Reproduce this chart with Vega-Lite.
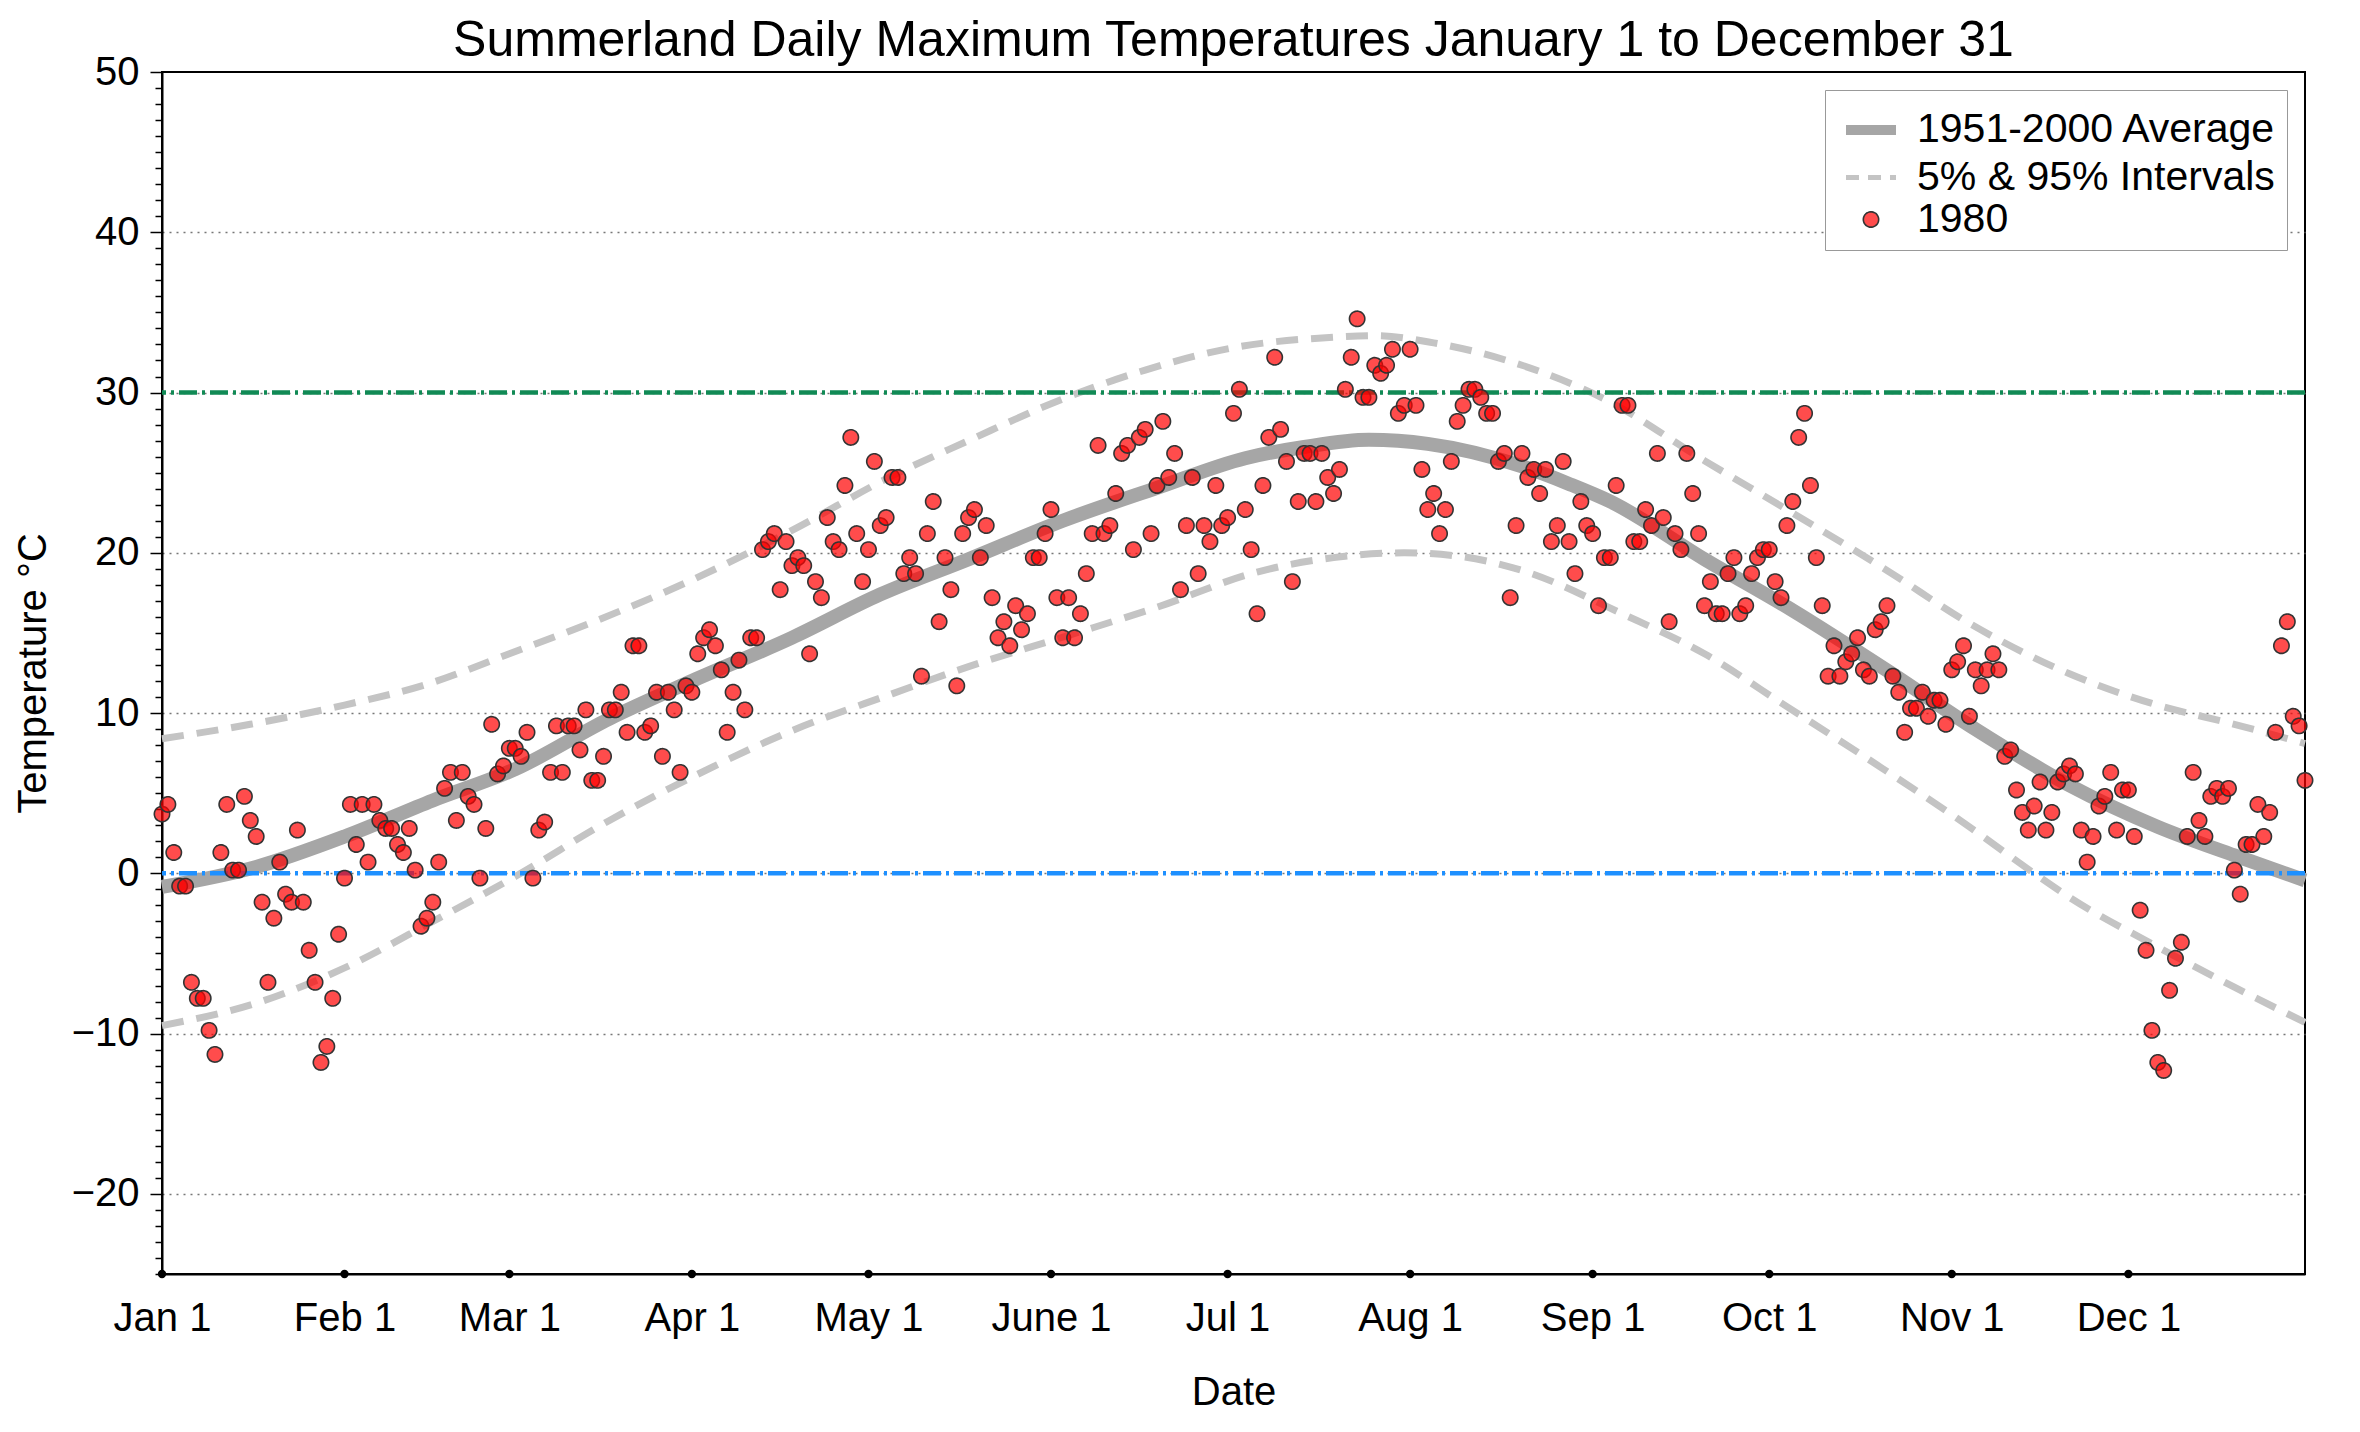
{
"$schema":"https://vega.github.io/schema/vega-lite/v6.json",
"width":2143,"height":1202,
"autosize":{"type":"none"},
"padding":{"left":162,"top":72,"right":55,"bottom":158},
"background":"white",
"config":{"font":"Liberation Sans","view":{"stroke":"black","strokeWidth":2},
 "axis":{"labelColor":"black","titleColor":"black","labelFontSize":40,"titleFontSize":40,"titleFontWeight":"normal","domainColor":"black","domainWidth":2,"tickColor":"black"},
 "legend":{"orient":"top-right","offset":18,"labelFontSize":41,"labelColor":"black","labelLimit":600,"strokeColor":"#999999","fillColor":"white","padding":10,"rowPadding":0,"labelOffset":16,"symbolOffset":6,"symbolOpacity":1}},
"title":{"text":"Summerland Daily Maximum Temperatures January 1 to December 31","fontSize":50,"fontWeight":"normal","color":"black","offset":0,"dy":14,"anchor":"middle"},
"datasets":{
"intervals":[
{"day":0,"temp":8.4,"bound":"upper"},{"day":15,"temp":9.3,"bound":"upper"},{"day":31,"temp":10.5,"bound":"upper"},{"day":45,"temp":11.8,"bound":"upper"},{"day":59,"temp":13.7,"bound":"upper"},{"day":74,"temp":15.8,"bound":"upper"},{"day":90,"temp":18.3,"bound":"upper"},{"day":107,"temp":21.4,"bound":"upper"},{"day":124,"temp":24.8,"bound":"upper"},{"day":137,"temp":27.0,"bound":"upper"},{"day":151,"temp":29.3,"bound":"upper"},{"day":167,"temp":31.4,"bound":"upper"},{"day":182,"temp":32.8,"bound":"upper"},{"day":199,"temp":33.45,"bound":"upper"},{"day":206,"temp":33.55,"bound":"upper"},{"day":216,"temp":33.1,"bound":"upper"},{"day":231,"temp":31.7,"bound":"upper"},{"day":245,"temp":29.6,"bound":"upper"},{"day":262,"temp":25.75,"bound":"upper"},{"day":276,"temp":22.7,"bound":"upper"},{"day":293,"temp":18.9,"bound":"upper"},{"day":307,"temp":15.6,"bound":"upper"},{"day":324,"temp":12.45,"bound":"upper"},{"day":338,"temp":10.6,"bound":"upper"},{"day":352,"temp":9.3,"bound":"upper"},{"day":364,"temp":8.1,"bound":"upper"},
{"day":0,"temp":-9.5,"bound":"lower"},{"day":16,"temp":-8.1,"bound":"lower"},{"day":31,"temp":-5.9,"bound":"lower"},{"day":46,"temp":-3.0,"bound":"lower"},{"day":60,"temp":-0.2,"bound":"lower"},{"day":76,"temp":3.3,"bound":"lower"},{"day":90,"temp":6.0,"bound":"lower"},{"day":107,"temp":8.9,"bound":"lower"},{"day":124,"temp":11.2,"bound":"lower"},{"day":137,"temp":12.9,"bound":"lower"},{"day":154,"temp":14.85,"bound":"lower"},{"day":169,"temp":16.6,"bound":"lower"},{"day":186,"temp":18.8,"bound":"lower"},{"day":199,"temp":19.7,"bound":"lower"},{"day":211,"temp":20.0,"bound":"lower"},{"day":220,"temp":19.8,"bound":"lower"},{"day":231,"temp":18.9,"bound":"lower"},{"day":248,"temp":16.2,"bound":"lower"},{"day":262,"temp":13.7,"bound":"lower"},{"day":276,"temp":10.4,"bound":"lower"},{"day":292,"temp":6.6,"bound":"lower"},{"day":307,"temp":2.9,"bound":"lower"},{"day":318,"temp":0.0,"bound":"lower"},{"day":324,"temp":-1.5,"bound":"lower"},{"day":338,"temp":-4.4,"bound":"lower"},{"day":352,"temp":-7.1,"bound":"lower"},{"day":364,"temp":-9.3,"bound":"lower"}],
"average":[
{"day":0,"temp":-0.85},{"day":16,"temp":0.4},{"day":31,"temp":2.3},{"day":46,"temp":4.55},{"day":60,"temp":6.5},{"day":76,"temp":9.65},{"day":90,"temp":12.0},{"day":107,"temp":14.7},{"day":122,"temp":17.4},{"day":137,"temp":19.6},{"day":153,"temp":22.0},{"day":169,"temp":24.05},{"day":184,"temp":25.9},{"day":194,"temp":26.6},{"day":205,"temp":27.05},{"day":215,"temp":26.8},{"day":231,"temp":25.4},{"day":239,"temp":24.3},{"day":246,"temp":23.2},{"day":262,"temp":19.6},{"day":277,"temp":16.4},{"day":293,"temp":12.66},{"day":308,"temp":9.0},{"day":324,"temp":5.49},{"day":339,"temp":2.9},{"day":352,"temp":1.12},{"day":364,"temp":-0.44}],
"months":[{"day":0},{"day":31},{"day":59},{"day":90},{"day":120},{"day":151},{"day":181},{"day":212},{"day":243},{"day":273},{"day":304},{"day":334}],
"obs":[
{"day":0,"temp":3.7},{"day":1,"temp":4.3},{"day":2,"temp":1.3},{"day":3,"temp":-0.8},{"day":4,"temp":-0.8},{"day":5,"temp":-6.8},{"day":6,"temp":-7.8},{"day":7,"temp":-7.8},{"day":8,"temp":-9.8},{"day":9,"temp":-11.3},
{"day":10,"temp":1.3},{"day":11,"temp":4.3},{"day":12,"temp":0.2},{"day":13,"temp":0.2},{"day":14,"temp":4.8},{"day":15,"temp":3.3},{"day":16,"temp":2.3},{"day":17,"temp":-1.8},{"day":18,"temp":-6.8},{"day":19,"temp":-2.8},
{"day":20,"temp":0.7},{"day":21,"temp":-1.3},{"day":22,"temp":-1.8},{"day":23,"temp":2.7},{"day":24,"temp":-1.8},{"day":25,"temp":-4.8},{"day":26,"temp":-6.8},{"day":27,"temp":-11.8},{"day":28,"temp":-10.8},{"day":29,"temp":-7.8},
{"day":30,"temp":-3.8},{"day":31,"temp":-0.3},{"day":32,"temp":4.3},{"day":33,"temp":1.8},{"day":34,"temp":4.3},{"day":35,"temp":0.7},{"day":36,"temp":4.3},{"day":37,"temp":3.3},{"day":38,"temp":2.8},{"day":39,"temp":2.8},
{"day":40,"temp":1.8},{"day":41,"temp":1.3},{"day":42,"temp":2.8},{"day":43,"temp":0.2},{"day":44,"temp":-3.3},{"day":45,"temp":-2.8},{"day":46,"temp":-1.8},{"day":47,"temp":0.7},{"day":48,"temp":5.3},{"day":49,"temp":6.3},
{"day":50,"temp":3.3},{"day":51,"temp":6.3},{"day":52,"temp":4.8},{"day":53,"temp":4.3},{"day":54,"temp":-0.3},{"day":55,"temp":2.8},{"day":56,"temp":9.3},{"day":57,"temp":6.2},{"day":58,"temp":6.7},{"day":59,"temp":7.8},
{"day":60,"temp":7.8},{"day":61,"temp":7.3},{"day":62,"temp":8.8},{"day":63,"temp":-0.3},{"day":64,"temp":2.7},{"day":65,"temp":3.2},{"day":66,"temp":6.3},{"day":67,"temp":9.2},{"day":68,"temp":6.3},{"day":69,"temp":9.2},
{"day":70,"temp":9.2},{"day":71,"temp":7.7},{"day":72,"temp":10.2},{"day":73,"temp":5.8},{"day":74,"temp":5.8},{"day":75,"temp":7.3},{"day":76,"temp":10.2},{"day":77,"temp":10.2},{"day":78,"temp":11.3},{"day":79,"temp":8.8},
{"day":80,"temp":14.2},{"day":81,"temp":14.2},{"day":82,"temp":8.8},{"day":83,"temp":9.2},{"day":84,"temp":11.3},{"day":85,"temp":7.3},{"day":86,"temp":11.3},{"day":87,"temp":10.2},{"day":88,"temp":6.3},{"day":89,"temp":11.7},
{"day":90,"temp":11.3},{"day":91,"temp":13.7},{"day":92,"temp":14.7},{"day":93,"temp":15.2},{"day":94,"temp":14.2},{"day":95,"temp":12.7},{"day":96,"temp":8.8},{"day":97,"temp":11.3},{"day":98,"temp":13.3},{"day":99,"temp":10.2},
{"day":100,"temp":14.7},{"day":101,"temp":14.7},{"day":102,"temp":20.2},{"day":103,"temp":20.7},{"day":104,"temp":21.2},{"day":105,"temp":17.7},{"day":106,"temp":20.7},{"day":107,"temp":19.2},{"day":108,"temp":19.7},{"day":109,"temp":19.2},
{"day":110,"temp":13.7},{"day":111,"temp":18.2},{"day":112,"temp":17.2},{"day":113,"temp":22.2},{"day":114,"temp":20.7},{"day":115,"temp":20.2},{"day":116,"temp":24.2},{"day":117,"temp":27.2},{"day":118,"temp":21.2},{"day":119,"temp":18.2},
{"day":120,"temp":20.2},{"day":121,"temp":25.7},{"day":122,"temp":21.7},{"day":123,"temp":22.2},{"day":124,"temp":24.7},{"day":125,"temp":24.7},{"day":126,"temp":18.7},{"day":127,"temp":19.7},{"day":128,"temp":18.7},{"day":129,"temp":12.3},
{"day":130,"temp":21.2},{"day":131,"temp":23.2},{"day":132,"temp":15.7},{"day":133,"temp":19.7},{"day":134,"temp":17.7},{"day":135,"temp":11.7},{"day":136,"temp":21.2},{"day":137,"temp":22.2},{"day":138,"temp":22.7},{"day":139,"temp":19.7},
{"day":140,"temp":21.7},{"day":141,"temp":17.2},{"day":142,"temp":14.7},{"day":143,"temp":15.7},{"day":144,"temp":14.2},{"day":145,"temp":16.7},{"day":146,"temp":15.2},{"day":147,"temp":16.2},{"day":148,"temp":19.7},{"day":149,"temp":19.7},
{"day":150,"temp":21.2},{"day":151,"temp":22.7},{"day":152,"temp":17.2},{"day":153,"temp":14.7},{"day":154,"temp":17.2},{"day":155,"temp":14.7},{"day":156,"temp":16.2},{"day":157,"temp":18.7},{"day":158,"temp":21.2},{"day":159,"temp":26.7},
{"day":160,"temp":21.2},{"day":161,"temp":21.7},{"day":162,"temp":23.7},{"day":163,"temp":26.2},{"day":164,"temp":26.7},{"day":165,"temp":20.2},{"day":166,"temp":27.2},{"day":167,"temp":27.7},{"day":168,"temp":21.2},{"day":169,"temp":24.2},
{"day":170,"temp":28.2},{"day":171,"temp":24.7},{"day":172,"temp":26.2},{"day":173,"temp":17.7},{"day":174,"temp":21.7},{"day":175,"temp":24.7},{"day":176,"temp":18.7},{"day":177,"temp":21.7},{"day":178,"temp":20.7},{"day":179,"temp":24.2},
{"day":180,"temp":21.7},{"day":181,"temp":22.2},{"day":182,"temp":28.7},{"day":183,"temp":30.2},{"day":184,"temp":22.7},{"day":185,"temp":20.2},{"day":186,"temp":16.2},{"day":187,"temp":24.2},{"day":188,"temp":27.2},{"day":189,"temp":32.2},
{"day":190,"temp":27.7},{"day":191,"temp":25.7},{"day":192,"temp":18.2},{"day":193,"temp":23.2},{"day":194,"temp":26.2},{"day":195,"temp":26.2},{"day":196,"temp":23.2},{"day":197,"temp":26.2},{"day":198,"temp":24.7},{"day":199,"temp":23.7},
{"day":200,"temp":25.2},{"day":201,"temp":30.2},{"day":202,"temp":32.2},{"day":203,"temp":34.6},{"day":204,"temp":29.7},{"day":205,"temp":29.7},{"day":206,"temp":31.7},{"day":207,"temp":31.2},{"day":208,"temp":31.7},{"day":209,"temp":32.7},
{"day":210,"temp":28.7},{"day":211,"temp":29.2},{"day":212,"temp":32.7},{"day":213,"temp":29.2},{"day":214,"temp":25.2},{"day":215,"temp":22.7},{"day":216,"temp":23.7},{"day":217,"temp":21.2},{"day":218,"temp":22.7},{"day":219,"temp":25.7},
{"day":220,"temp":28.2},{"day":221,"temp":29.2},{"day":222,"temp":30.2},{"day":223,"temp":30.2},{"day":224,"temp":29.7},{"day":225,"temp":28.7},{"day":226,"temp":28.7},{"day":227,"temp":25.7},{"day":228,"temp":26.2},{"day":229,"temp":17.2},
{"day":230,"temp":21.7},{"day":231,"temp":26.2},{"day":232,"temp":24.7},{"day":233,"temp":25.2},{"day":234,"temp":23.7},{"day":235,"temp":25.2},{"day":236,"temp":20.7},{"day":237,"temp":21.7},{"day":238,"temp":25.7},{"day":239,"temp":20.7},
{"day":240,"temp":18.7},{"day":241,"temp":23.2},{"day":242,"temp":21.7},{"day":243,"temp":21.2},{"day":244,"temp":16.7},{"day":245,"temp":19.7},{"day":246,"temp":19.7},{"day":247,"temp":24.2},{"day":248,"temp":29.2},{"day":249,"temp":29.2},
{"day":250,"temp":20.7},{"day":251,"temp":20.7},{"day":252,"temp":22.7},{"day":253,"temp":21.7},{"day":254,"temp":26.2},{"day":255,"temp":22.2},{"day":256,"temp":15.7},{"day":257,"temp":21.2},{"day":258,"temp":20.2},{"day":259,"temp":26.2},
{"day":260,"temp":23.7},{"day":261,"temp":21.2},{"day":262,"temp":16.7},{"day":263,"temp":18.2},{"day":264,"temp":16.2},{"day":265,"temp":16.2},{"day":266,"temp":18.7},{"day":267,"temp":19.7},{"day":268,"temp":16.2},{"day":269,"temp":16.7},
{"day":270,"temp":18.7},{"day":271,"temp":19.7},{"day":272,"temp":20.2},{"day":273,"temp":20.2},{"day":274,"temp":18.2},{"day":275,"temp":17.2},{"day":276,"temp":21.7},{"day":277,"temp":23.2},{"day":278,"temp":27.2},{"day":279,"temp":28.7},
{"day":280,"temp":24.2},{"day":281,"temp":19.7},{"day":282,"temp":16.7},{"day":283,"temp":12.3},{"day":284,"temp":14.2},{"day":285,"temp":12.3},{"day":286,"temp":13.2},{"day":287,"temp":13.7},{"day":288,"temp":14.7},{"day":289,"temp":12.7},
{"day":290,"temp":12.3},{"day":291,"temp":15.2},{"day":292,"temp":15.7},{"day":293,"temp":16.7},{"day":294,"temp":12.3},{"day":295,"temp":11.3},{"day":296,"temp":8.8},{"day":297,"temp":10.3},{"day":298,"temp":10.3},{"day":299,"temp":11.3},
{"day":300,"temp":9.8},{"day":301,"temp":10.8},{"day":302,"temp":10.8},{"day":303,"temp":9.3},{"day":304,"temp":12.7},{"day":305,"temp":13.2},{"day":306,"temp":14.2},{"day":307,"temp":9.8},{"day":308,"temp":12.7},{"day":309,"temp":11.7},
{"day":310,"temp":12.7},{"day":311,"temp":13.7},{"day":312,"temp":12.7},{"day":313,"temp":7.3},{"day":314,"temp":7.7},{"day":315,"temp":5.2},{"day":316,"temp":3.8},{"day":317,"temp":2.7},{"day":318,"temp":4.2},{"day":319,"temp":5.7},
{"day":320,"temp":2.7},{"day":321,"temp":3.8},{"day":322,"temp":5.7},{"day":323,"temp":6.2},{"day":324,"temp":6.7},{"day":325,"temp":6.2},{"day":326,"temp":2.7},{"day":327,"temp":0.7},{"day":328,"temp":2.3},{"day":329,"temp":4.2},
{"day":330,"temp":4.8},{"day":331,"temp":6.3},{"day":332,"temp":2.7},{"day":333,"temp":5.2},{"day":334,"temp":5.2},{"day":335,"temp":2.3},{"day":336,"temp":-2.3},{"day":337,"temp":-4.8},{"day":338,"temp":-9.8},{"day":339,"temp":-11.8},
{"day":340,"temp":-12.3},{"day":341,"temp":-7.3},{"day":342,"temp":-5.3},{"day":343,"temp":-4.3},{"day":344,"temp":2.3},{"day":345,"temp":6.3},{"day":346,"temp":3.3},{"day":347,"temp":2.3},{"day":348,"temp":4.8},{"day":349,"temp":5.3},
{"day":350,"temp":4.8},{"day":351,"temp":5.3},{"day":352,"temp":0.2},{"day":353,"temp":-1.3},{"day":354,"temp":1.8},{"day":355,"temp":1.8},{"day":356,"temp":4.3},{"day":357,"temp":2.3},{"day":358,"temp":3.8},{"day":359,"temp":8.8},
{"day":360,"temp":14.2},{"day":361,"temp":15.7},{"day":362,"temp":9.8},{"day":363,"temp":9.2},{"day":364,"temp":5.8}]
},
"layer":[
{"data":{"name":"intervals"},
 "mark":{"type":"line","color":"#c4c4c4","strokeWidth":7,"strokeDash":[22,13],"interpolate":"monotone"},
 "encoding":{
  "x":{"field":"day","type":"quantitative","scale":{"domain":[0,364],"nice":false,"zero":false},
   "axis":{"title":"Date","values":[0,31,59,90,120,151,181,212,243,273,304,334],"tickCount":100,
    "labelExpr":"['Jan 1','Feb 1','Mar 1','Apr 1','May 1','June 1','Jul 1','Aug 1','Sep 1','Oct 1','Nov 1','Dec 1'][indexof([0,31,59,90,120,151,181,212,243,273,304,334], datum.value)]",
    "ticks":false,"grid":false,"labelPadding":24,"labelFlush":false,"labelOverlap":false,"titleY":118,"titleBaseline":"middle"}},
  "y":{"field":"temp","type":"quantitative","scale":{"domain":[-25,50],"nice":false,"zero":false},
   "axis":{"title":"Temperature °C","tickCount":200,"format":"d",
    "values":[-25,-24,-23,-22,-21,-20,-19,-18,-17,-16,-15,-14,-13,-12,-11,-10,-9,-8,-7,-6,-5,-4,-3,-2,-1,0,1,2,3,4,5,6,7,8,9,10,11,12,13,14,15,16,17,18,19,20,21,22,23,24,25,26,27,28,29,30,31,32,33,34,35,36,37,38,39,40,41,42,43,44,45,46,47,48,49,50],
    "labelExpr":"datum.value % 10 === 0 ? datum.label : ''",
    "labelOverlap":false,"labelFlush":false,
    "tickSize":{"condition":{"test":"datum.value % 10 === 0","value":12},"value":7},
    "tickWidth":1.5,"labelPadding":11,
    "grid":true,"gridColor":"#777777","gridDash":[2,5],"gridWidth":1.5,
    "gridOpacity":{"condition":{"test":"datum.value % 10 === 0 && datum.value > -25 && datum.value < 50","value":1},"value":0},
    "titleX":-129,"titleBaseline":"middle"}},
  "detail":{"field":"bound"}}},
{"data":{"name":"average"},
 "mark":{"type":"line","color":"#a6a6a6","strokeWidth":14,"interpolate":"monotone"},
 "encoding":{"x":{"field":"day","type":"quantitative"},"y":{"field":"temp","type":"quantitative"}}},
{"data":{"values":[{"temp":0}]},
 "mark":{"type":"rule","color":"#1e90ff","strokeWidth":4.5,"strokeDash":[18,5,3,5]},
 "encoding":{"y":{"field":"temp","type":"quantitative"}}},
{"data":{"values":[{"temp":30}]},
 "mark":{"type":"rule","color":"#118a55","strokeWidth":4.5,"strokeDash":[18,5,3,5]},
 "encoding":{"y":{"field":"temp","type":"quantitative"}}},
{"data":{"name":"months"},
 "mark":{"type":"point","filled":true,"color":"black","size":70,"opacity":1},
 "encoding":{"x":{"field":"day","type":"quantitative"},"y":{"datum":-25}}},
{"data":{"name":"obs"},
 "mark":{"type":"point","opacity":1,"fillOpacity":1,"strokeOpacity":1},
 "encoding":{"x":{"field":"day","type":"quantitative"},"y":{"field":"temp","type":"quantitative"},
  "fill":{"datum":"1980","type":"nominal","scale":{"domain":["1951-2000 Average","5% & 95% Intervals","1980"],"range":["transparent","transparent","rgba(255,0,0,0.7)"]},"legend":{"title":null}},
  "stroke":{"datum":"1980","type":"nominal","scale":{"domain":["1951-2000 Average","5% & 95% Intervals","1980"],"range":["#a6a6a6","#c4c4c4","#333333"]},"legend":{"title":null}},
  "shape":{"datum":"1980","type":"nominal","scale":{"domain":["1951-2000 Average","5% & 95% Intervals","1980"],"range":["stroke","stroke","circle"]},"legend":{"title":null}},
  "size":{"datum":"1980","type":"ordinal","scale":{"type":"ordinal","domain":["1951-2000 Average","5% & 95% Intervals","1980"],"range":[2500,2500,235]},"legend":{"title":null}},
  "strokeWidth":{"datum":"1980","type":"ordinal","scale":{"type":"ordinal","domain":["1951-2000 Average","5% & 95% Intervals","1980"],"range":[10,5,1.6]},"legend":{"title":null}},
  "strokeDash":{"datum":"1980","type":"nominal","scale":{"domain":["1951-2000 Average","5% & 95% Intervals","1980"],"range":[[1,0],[13,9],[1,0]]},"legend":{"title":null}}}}
]
}
